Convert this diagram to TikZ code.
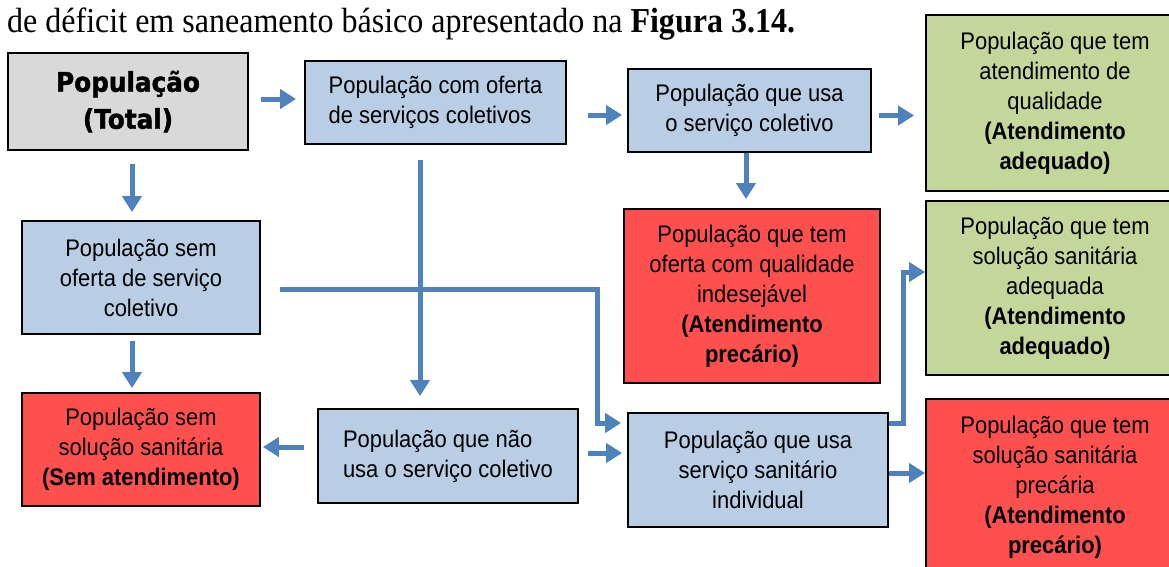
\documentclass[tikz,border=0pt]{standalone}
\usepackage{fontspec}
\setmainfont[FakeStretch=0.915]{Liberation Sans}
\newfontfamily\capfont[FakeStretch=0.915]{Liberation Serif}
\newfontfamily\headfont[FakeStretch=0.915,BoldFeatures={FakeBold=1.6}]{DejaVu Sans}
\usepackage{tikz}
\usetikzlibrary{arrows.meta}
\definecolor{boxgray}{HTML}{D9D9D9}
\definecolor{boxblue}{HTML}{B9CDE5}
\definecolor{boxgreen}{HTML}{C4D79B}
\definecolor{boxred}{HTML}{FF5050}
\definecolor{flowblue}{HTML}{4F81BD}
\tikzset{
box/.style={ % Sets the properties for each box
draw=black,
line width=1.8pt,
inner sep=0pt,
align=center,
font=\fontsize{24}{30}\selectfont},
>={Triangle[length=16pt,width=19pt]}, % Broad arrow heads
flow/.style={ % Sets the properties for each connector
draw=flowblue,
line width=5pt,
->}}

\begin{document}
\begin{tikzpicture}[x=1pt,y=-1pt]
\clip (0,0) rectangle (1169,566);
\node[anchor=base west,inner sep=0pt,font=\capfont\fontsize{35}{38}\selectfont] (cap) at (7,32)
 {de déficit em saneamento básico apresentado na \textbf{Figura 3.14.}};
\node[box,fill=boxgray,minimum width=240,minimum height=97,
 font=\headfont\bfseries\fontsize{27}{37}\selectfont] (tot) at (128,101.5) {População\\(Total)};
\node[box,fill=boxblue,minimum width=261,minimum height=83,align=left] (com) at (435.5,102.5)
 {População com oferta\\de serviços coletivos};
\node[box,fill=boxblue,minimum width=243,minimum height=83] (usa) at (749.5,110.5)
 {População que usa\\o serviço coletivo};
\node[box,fill=boxgreen,minimum width=258,minimum height=176] (boa) at (1055,103)
 {População que tem\\atendimento de\\qualidade\\\textbf{(Atendimento}\\\textbf{adequado)}};
\node[box,fill=boxred,minimum width=256,minimum height=174] (ind) at (752,296)
 {População que tem\\oferta com qualidade\\indesejável\\\textbf{(Atendimento}\\\textbf{precário)}};
\node[box,fill=boxgreen,minimum width=258,minimum height=174] (adq) at (1055,288)
 {População que tem\\solução sanitária\\adequada\\\textbf{(Atendimento}\\\textbf{adequado)}};
\node[box,fill=boxred,minimum width=258,minimum height=176] (prec) at (1055,487)
 {População que tem\\solução sanitária\\precária\\\textbf{(Atendimento}\\\textbf{precário)}};
\node[box,fill=boxblue,minimum width=260,minimum height=114] (indiv) at (758,470)
 {População que usa\\serviço sanitário\\individual};
\node[box,fill=boxblue,minimum width=260,minimum height=94,align=left] (nao) at (448,456)
 {População que não\\usa o serviço coletivo};
\node[box,fill=boxred,minimum width=238,minimum height=113] (semsol) at (141,449.5)
 {População sem\\solução sanitária\\\textbf{(Sem atendimento)}};
\node[box,fill=boxblue,minimum width=238,minimum height=113] (sem) at (141,277.5)
 {População sem\\oferta de serviço\\coletivo};
% top row
\draw[flow,shorten <=12pt,shorten >=8pt] ([yshift=3.5pt]com.west -| tot.east) -- ([yshift=3.5pt]com.west);
\draw[flow,shorten <=21pt,shorten >=5pt] ([yshift=-12.5pt]com.east) -- ([yshift=-12.5pt]com.east -| usa.west);
\draw[flow,shorten <=7pt,shorten >=11pt] ([yshift=-5pt]usa.east) -- ([yshift=-5pt]usa.east -| boa.west);
\draw[flow,shorten >=9pt] ([xshift=-3.5pt]usa.south) -- ([xshift=-3.5pt]usa.south |- ind.north);
% left column
\draw[flow,shorten <=13pt,shorten >=8pt] ([xshift=4pt]tot.south) -- ([xshift=4pt]tot.south |- sem.north);
\draw[flow,shorten <=6pt,shorten >=4pt] ([xshift=-9pt]sem.south) -- ([xshift=-9pt]sem.south |- semsol.north);
\draw[flow,shorten <=15pt,shorten >=12pt] ([xshift=-15.5pt]com.south) -- ([xshift=-15.5pt]com.south |- nao.north);
% elbows and bottom row
\draw[flow,shorten <=19pt,shorten >=6pt] ([yshift=-11.5pt]sem.east) -- ++(337,0) |- ([yshift=47pt]indiv.west);
\draw[flow,shorten <=13pt,shorten >=2pt] ([yshift=9pt]nao.west) -- ([yshift=9pt]nao.west -| semsol.east);
\draw[flow,shorten <=9pt,shorten >=5pt] ([yshift=3pt]nao.east) -- ([yshift=3pt]nao.east -| indiv.west);
\draw[flow] ([yshift=47pt]indiv.east) -- ++(15,0) |- ([yshift=16pt]adq.west);
\draw[flow] ([yshift=-3pt]indiv.east) -- ([yshift=-3pt]indiv.east -| prec.west);
\end{tikzpicture}
\end{document}
